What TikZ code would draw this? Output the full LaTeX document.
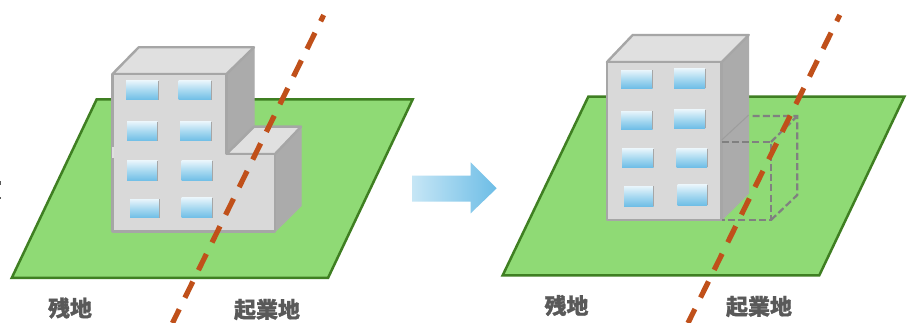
\documentclass[tikz,border=0pt]{standalone}
\usepackage{fontspec}
\newfontfamily\cjk[BoldFeatures={FakeBold=1.0}]{Noto Sans CJK JP}
\definecolor{lawn}{HTML}{8FDA75}
\definecolor{lawnedge}{HTML}{3F7F22}
\definecolor{wallc}{HTML}{D9D9D9}
\definecolor{roofc}{HTML}{E0E0E0}
\definecolor{sidec}{HTML}{ABABAB}
\definecolor{edgec}{HTML}{A6A6A6}
\definecolor{cutc}{HTML}{C0501A}
\definecolor{ghost}{HTML}{808080}
\definecolor{labelc}{HTML}{595959}
\definecolor{wint}{HTML}{E6F4FB}
\definecolor{winm}{HTML}{A6D8F0}
\definecolor{winb}{HTML}{6DBDE6}
\tikzset{
  lot/.style={fill=lawn,draw=lawnedge,line width=2.5pt,line join=miter},
  wall/.style={fill=wallc,draw=edgec,line width=2.6pt,line join=round},
  roof/.style={fill=roofc,draw=edgec,line width=2.4pt,line join=round},
  side/.style={fill=sidec,draw=sidec,line width=1pt,line join=round},
  boundary/.style={draw=cutc,line width=5.2pt,dash pattern=on 18pt off 12.8pt,dash phase=11pt},
  ghostline/.style={draw=ghost,line width=2.2pt,dash pattern=on 7pt off 3.2pt},
  caption/.style={font=\cjk\bfseries\fontsize{22}{22}\selectfont,text=labelc,inner sep=0pt}
}
\newcommand{\windowpane}[4]{%
  \shade[top color=wint,bottom color=winb,middle color=winm] (#1,#2) rectangle (#3,#4);
  \draw[edgec,line width=0.9pt] (#3,#2) -- (#3,#4);
}
\begin{document}
\begin{tikzpicture}[x=1pt,y=-1pt]
\useasboundingbox (0,0) rectangle (908,323);
\fill[white] (0,0) rectangle (908,323);

% clipped marks at the left edge
\fill[labelc] (0,181) rectangle (1.2,185);
\fill[labelc] (0,197) rectangle (1.2,199.5);

% left lot
\draw[lot] (96.7,99.3) -- (412.7,99.3) -- (328,278) -- (11.7,278) -- cycle;
% left building
\draw[side] (226.5,74) -- (254,47.3) -- (254,126.7) -- (226.5,154) -- cycle;
\draw[side] (275,154) -- (301,126.7) -- (301,206) -- (275,231.7) -- cycle;
\draw[roof] (112.5,74) -- (138.7,47.3) -- (254,47.3) -- (226.5,74) -- cycle;
\draw[roof] (226.5,154) -- (254,126.7) -- (301,126.7) -- (275,154) -- cycle;
\draw[wall] (112.5,74) -- (226.5,74) -- (226.5,154) -- (275,154) -- (275,231.7) -- (112.5,231.7) -- cycle;
\draw[wallc!85!white,line width=2.6pt] (112.8,147) -- (112.8,158);
\windowpane{126}{81}{158.5}{100}
\windowpane{178.5}{81}{211}{100}
\windowpane{127}{122}{157.5}{141}
\windowpane{180}{122}{211}{141}
\windowpane{127}{161}{157.5}{181}
\windowpane{181.5}{161}{212}{181}
\windowpane{130}{199.5}{159.5}{218}
\windowpane{181.5}{198}{212}{218}
% left boundary
\coordinate (la) at (323.7,15);
\coordinate (lb) at (172.5,323);
\draw[boundary] (la) -- (lb);

% arrow
\shade[left color=wint!50!winm,right color=winb]
  (412,175.7) -- (470.7,175.7) -- (470.7,162.3) -- (496.7,188.3) -- (470.7,213.3) -- (470.7,201.7) -- (412,201.7) -- cycle;

% right lot
\draw[lot] (588.3,96.7) -- (904.3,96.7) -- (819.3,275.3) -- (502.7,275.3) -- cycle;
% right building
\draw[side] (721.7,62) -- (748.7,35) -- (748.7,193.3) -- (721.7,220) -- cycle;
\draw[roof] (607,62) -- (632.7,35) -- (748.7,35) -- (721.7,62) -- cycle;
\draw[wall] (607,62) rectangle (721.7,220);
\windowpane{621}{70.5}{652.5}{88.5}
\windowpane{674}{69}{705}{88.5}
\windowpane{621}{111.5}{652.5}{129.5}
\windowpane{674}{110}{705}{128.5}
\windowpane{622}{149}{653.5}{167.5}
\windowpane{676.5}{149}{707}{167.5}
\windowpane{624}{186.5}{653.5}{206.5}
\windowpane{677.5}{185}{707}{205.5}
% demolished part
\draw[ghostline] (721.7,142) -- (771,142) -- (771,220) -- (721.7,220);
\draw[ghostline] (771,220) -- (797.3,195) -- (797.3,116) -- (750,116);
\draw[ghostline] (771,142) -- (797.3,116);
\draw[sidec!92!black,line width=1pt] (721.7,140) -- (748.7,115);
% right boundary
\coordinate (ra) at (839.8,15);
\coordinate (rb) at (688,323);
\draw[boundary] (ra) -- (rb);

% labels
\node[caption] (z1) at (70,308) {残地};
\node[caption] (k1) at (267,309.5) {起業地};
\node[caption] (z2) at (566.5,305.5) {残地};
\node[caption] (k2) at (759,306.5) {起業地};
\end{tikzpicture}
\end{document}
